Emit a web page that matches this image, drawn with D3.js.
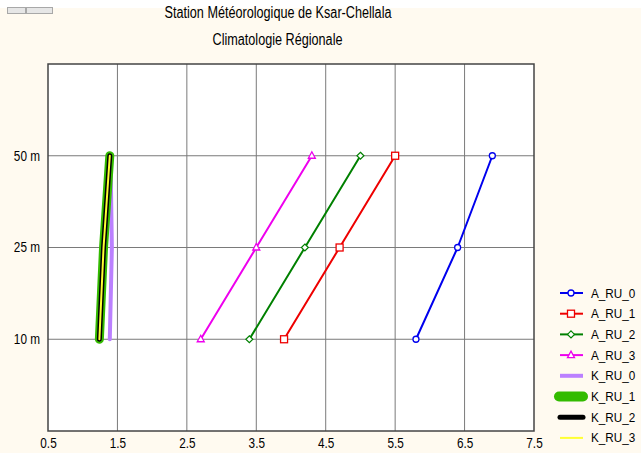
<!DOCTYPE html>
<html>
<head>
<meta charset="utf-8">
<script src="https://cdn.jsdelivr.net/npm/d3@7"></script>
<style>
  html, body { margin: 0; padding: 0; background: #fffaf0; }
  svg { display: block; font-family: "Liberation Sans", Arial, sans-serif; }
</style>
</head>
<body>
<svg id="chart"></svg>
<script>
// altitudes (catégories de l'axe Y)
const levels = ['10 m', '25 m', '50 m'];
const xTicks = [0.5, 1.5, 2.5, 3.5, 4.5, 5.5, 6.5, 7.5];

// séries
const A_RU_0 = [5.8, 6.4, 6.9];
const A_RU_1 = [3.9, 4.7, 5.5];
const A_RU_2 = [3.4, 4.2, 5.0];
const A_RU_3 = [2.7, 3.5, 4.3];
const K_RU_0 = [1.39, 1.42, 1.40];
const K_RU_1 = [1.24, 1.30, 1.39];
const K_RU_2 = [1.24, 1.30, 1.39];
const K_RU_3 = [1.24, 1.30, 1.39];

const seriesNames = ['A_RU_0', 'A_RU_1', 'A_RU_2', 'A_RU_3', 'K_RU_0', 'K_RU_1', 'K_RU_2', 'K_RU_3'];
const seriesValues = [A_RU_0, A_RU_1, A_RU_2, A_RU_3, K_RU_0, K_RU_1, K_RU_2, K_RU_3];

const styles = {
  A_RU_0: { color: '#0000ee', width: 2, marker: 'circle' },
  A_RU_1: { color: '#ee0000', width: 2, marker: 'square' },
  A_RU_2: { color: '#008000', width: 2, marker: 'diamond' },
  A_RU_3: { color: '#ee00ee', width: 2, marker: 'triangle' },
  K_RU_0: { color: '#bb80ff', width: 4, marker: null },
  K_RU_1: { color: '#33bb00', width: 9, marker: null },
  K_RU_2: { color: '#000000', width: 5, marker: null },
  K_RU_3: { color: '#ffff33', width: 2, marker: null }
};

let width = 641;
let height = 453;
let plot = { left: 48, top: 64, right: 534, bottom: 431 };
let squeeze = 0.8;

let svg = d3.select('#chart').attr('width', width).attr('height', height);

// texte étroit (police compressée horizontalement comme l'original)
function narrow(sel, k) {
  sel.each(function () {
    let w = this.getComputedTextLength();
    d3.select(this).attr('textLength', w * (k || squeeze)).attr('lengthAdjust', 'spacingAndGlyphs');
  });
}

// bande blanche en haut + petit bouton
svg.append('rect').attr('x', 0).attr('y', 0).attr('width', width).attr('height', 8).attr('fill', '#ffffff');
svg.append('rect').attr('x', 7.5).attr('y', 7.5).attr('width', 18).attr('height', 6)
  .attr('fill', '#e6e6e6').attr('stroke', '#a8a8a8');
svg.append('rect').attr('x', 26.5).attr('y', 7.5).attr('width', 26).attr('height', 6)
  .attr('fill', '#e6e6e6').attr('stroke', '#a8a8a8');

// titre
svg.append('text').attr('x', 278).attr('y', 18).attr('text-anchor', 'middle')
  .attr('font-size', 16).text('Station Météorologique de Ksar-Chellala').call(narrow, 0.79);
svg.append('text').attr('x', 277.5).attr('y', 45).attr('text-anchor', 'middle')
  .attr('font-size', 16).text('Climatologie Régionale').call(narrow, 0.79);

svg.append('rect')
  .attr('x', plot.left).attr('y', plot.top)
  .attr('width', plot.right - plot.left).attr('height', plot.bottom - plot.top)
  .attr('fill', '#ffffff');

let xScale = d3.scaleLinear().domain([0.5, 7.5]).range([plot.left, plot.right]);
let yScale = d3.scalePoint().domain(levels).range([plot.bottom, plot.top]).padding(1);

// grille
let grid = svg.append('g');
grid.selectAll('line.v').data(xTicks.slice(1, -1)).join('line')
  .attr('x1', d => xScale(d)).attr('x2', d => xScale(d))
  .attr('y1', plot.top).attr('y2', plot.bottom)
  .attr('stroke', '#7a7a7a').attr('stroke-width', 1);
grid.selectAll('line.h').data(levels).join('line')
  .attr('x1', plot.left).attr('x2', plot.right)
  .attr('y1', d => yScale(d)).attr('y2', d => yScale(d))
  .attr('stroke', '#7a7a7a').attr('stroke-width', 1);

// axes
let xAxis = d3.axisBottom(xScale).tickValues(xTicks).tickFormat(d3.format('.1f')).tickSize(0).tickPadding(7);
let xAxisLayer = svg.append('g').attr('transform', `translate(0, ${plot.bottom})`).call(xAxis);
let yAxis = d3.axisLeft(yScale).tickSize(0).tickPadding(8);
let yAxisLayer = svg.append('g').attr('transform', `translate(${plot.left}, 0)`).call(yAxis);

[xAxisLayer, yAxisLayer].forEach(layer => {
  layer.select('.domain').remove();
  layer.selectAll('text').attr('font-size', 14).attr('fill', '#000')
    .attr('font-family', '"Liberation Sans", Arial, sans-serif')
    .call(narrow, 0.84);
});

// courbes
let line = d3.line().x(d => xScale(d.v)).y(d => yScale(d.level));
let lineg = svg.append('g');

seriesNames.forEach((name, i) => {
  let pts = seriesValues[i].map((v, j) => ({ v: v, level: levels[j] }));
  let st = styles[name];
  lineg.append('path').datum(pts)
    .attr('d', line)
    .attr('fill', 'none')
    .attr('stroke', st.color)
    .attr('stroke-width', st.width)
    .attr('stroke-linecap', 'round')
    .attr('stroke-linejoin', 'round');
  if (st.marker) {
    pts.forEach(p => drawMarker(lineg, st.marker, xScale(p.v), yScale(p.level), st.color));
  }
});

function drawMarker(g, type, x, y, color) {
  if (type === 'circle') {
    g.append('circle').attr('cx', x).attr('cy', y).attr('r', 3)
      .attr('fill', '#fff').attr('stroke', color).attr('stroke-width', 1.3);
  } else if (type === 'square') {
    g.append('rect').attr('x', x - 3.5).attr('y', y - 3.5).attr('width', 7).attr('height', 7)
      .attr('fill', '#fff').attr('stroke', color).attr('stroke-width', 1.3);
  } else if (type === 'diamond') {
    g.append('path').attr('d', `M${x},${y - 3.5}L${x + 3.5},${y}L${x},${y + 3.5}L${x - 3.5},${y}Z`)
      .attr('fill', '#fff').attr('stroke', color).attr('stroke-width', 1.2);
  } else if (type === 'triangle') {
    g.append('path').attr('d', `M${x},${y - 4}L${x + 3.5},${y + 2.5}L${x - 3.5},${y + 2.5}Z`)
      .attr('fill', '#fff').attr('stroke', color).attr('stroke-width', 1.3);
  }
}

// cadre
svg.append('rect')
  .attr('x', plot.left).attr('y', plot.top)
  .attr('width', plot.right - plot.left).attr('height', plot.bottom - plot.top)
  .attr('fill', 'none').attr('stroke', '#444').attr('stroke-width', 1.5);

// légende
let legend = svg.append('g');
seriesNames.forEach((name, i) => {
  let st = styles[name];
  let y = 293 + i * 20.7;
  let lw = name === 'K_RU_1' ? 10 : (name === 'K_RU_2' ? 5 : (name === 'K_RU_0' ? 4 : 2));
  legend.append('line').attr('x1', 559 + (name === 'K_RU_1' ? 0 : 1)).attr('x2', 583)
    .attr('y1', y).attr('y2', y)
    .attr('stroke', st.color).attr('stroke-width', lw)
    .attr('stroke-linecap', name === 'K_RU_1' || name === 'K_RU_2' ? 'round' : 'butt');
  if (st.marker) drawMarker(legend, st.marker, 571, y, st.color);
  legend.append('text').attr('x', 591).attr('y', y + 4.5)
    .attr('font-size', 13).text(name).call(narrow, 0.9);
});
</script>
</body>
</html>
